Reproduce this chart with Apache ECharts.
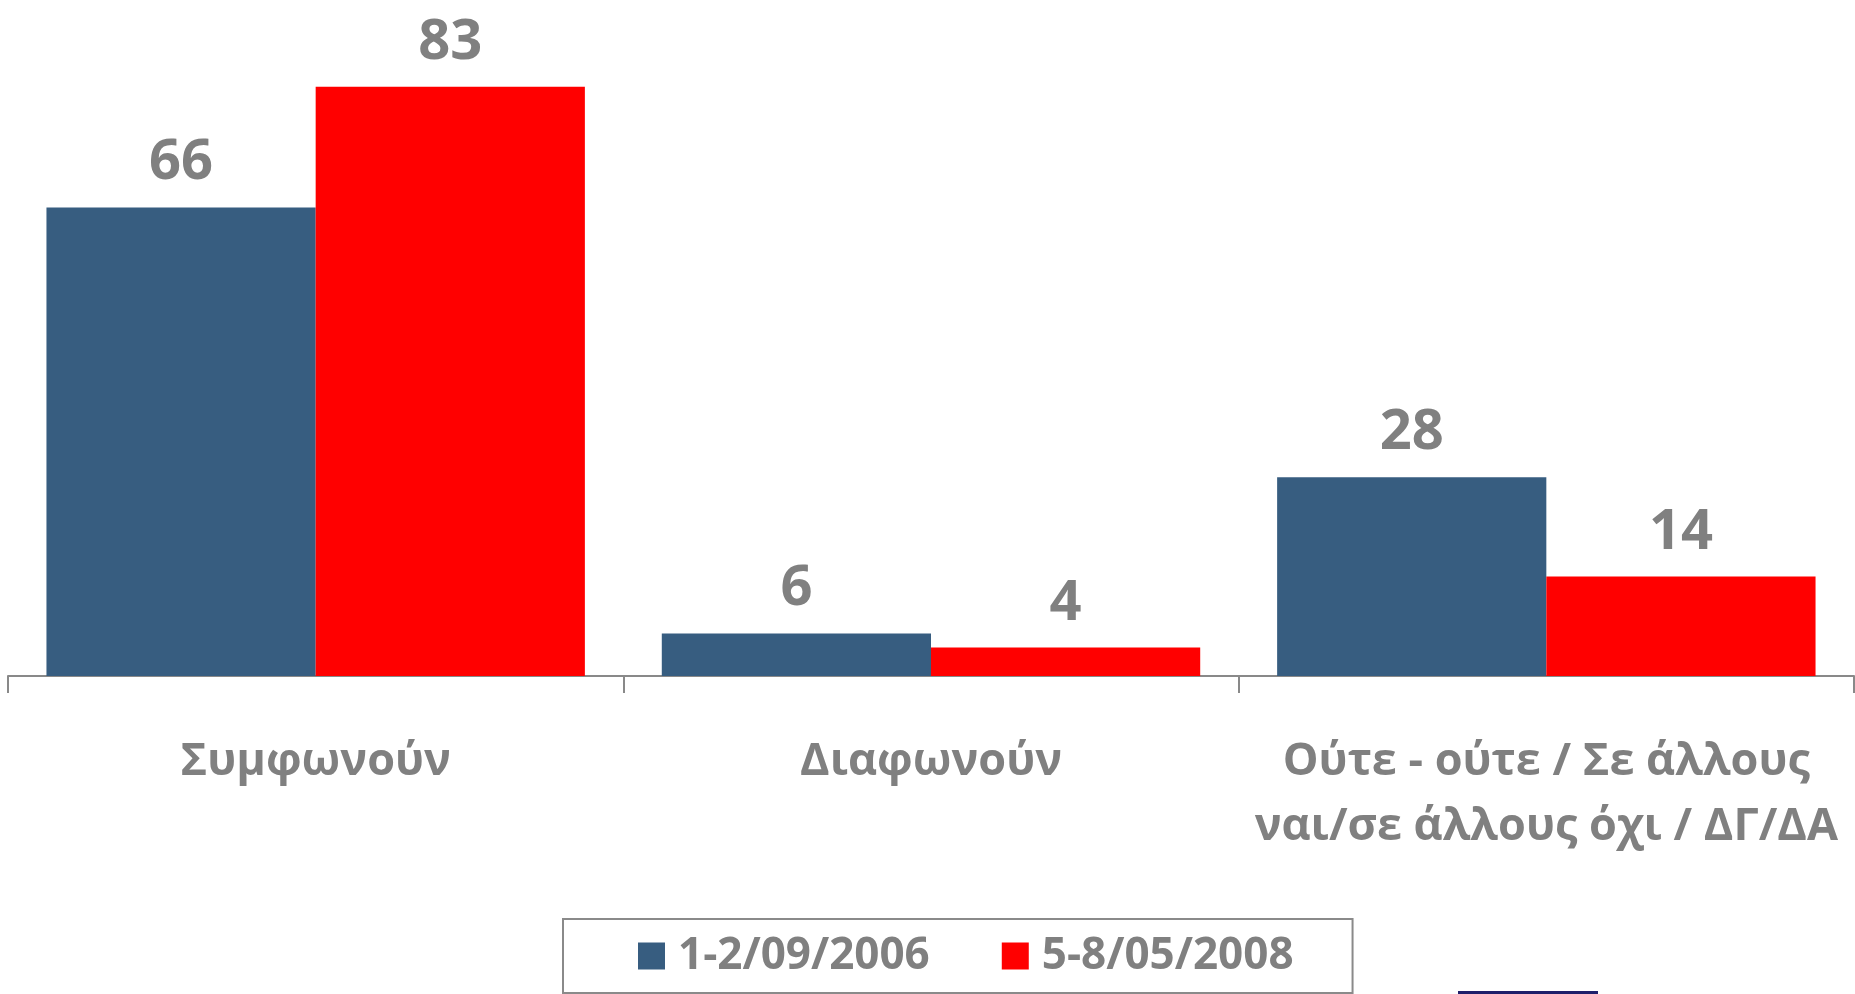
<!DOCTYPE html>
<html>
<head>
<meta charset="utf-8">
<script src="https://cdn.jsdelivr.net/npm/echarts@6/dist/echarts.min.js"></script>
<style>
  html, body { margin: 0; padding: 0; background: #fff; }
  #chart { width: 1855px; height: 994px; }
</style>
</head>
<body>
<div id="chart"></div>
<script>
// data
const categories = [
  "Συμφωνούν",
  "Διαφωνούν",
  "Ούτε - ούτε / Σε άλλους\nναι/σε άλλους όχι / ΔΓ/ΔΑ",
];
const seriesNames = ["1-2/09/2006", "5-8/05/2008"];
const values2006 = [66, 6, 28];
const values2008 = [83, 4, 14];

const GREY = "#808080";
const FONT = "'Open Sans', 'Noto Sans', sans-serif";

const chartDom = document.getElementById("chart");
const myChart = echarts.init(chartDom, null, { renderer: "canvas" });

const barLabel = {
  show: true,
  position: "top",
  distance: 16,
  color: GREY,
  fontFamily: FONT,
  fontWeight: "bold",
  fontSize: 56,
};

const option = {
  animation: false,
  backgroundColor: "#fff",
  grid: {
    left: 8,
    right: 1,
    top: 37,
    bottom: 318,
    containLabel: false,
  },
  legend: {
    left: 563,
    bottom: 1,
    orient: "horizontal",
    padding: [15, 59, 15, 75],
    borderColor: "#8a8a8a",
    borderWidth: 2,
    itemWidth: 27,
    itemHeight: 27,
    itemGap: 72,
    icon: "rect",
    textStyle: {
      color: GREY,
      fontFamily: FONT,
      fontWeight: "bold",
      fontSize: 44,
      padding: [0, 0, 0, 8],
    },
    data: seriesNames,
  },
  xAxis: {
    type: "category",
    data: categories,
    boundaryGap: true,
    axisLine: { lineStyle: { color: "#898989", width: 2 } },
    axisTick: { show: true, length: 17, lineStyle: { color: "#898989", width: 2 } },
    axisLabel: {
      interval: 0,
      margin: 54,
      color: GREY,
      fontFamily: FONT,
      fontWeight: "bold",
      fontSize: 45,
      lineHeight: 65,
    },
  },
  yAxis: {
    type: "value",
    min: 0,
    max: 90,
    show: false,
    splitLine: { show: false },
  },
  series: [
    {
      name: seriesNames[0],
      type: "bar",
      data: values2006,
      barGap: "0%",
      barCategoryGap: "12.5%",
      itemStyle: { color: "#375D80" },
      label: barLabel,
    },
    {
      name: seriesNames[1],
      type: "bar",
      data: values2008,
      barGap: "0%",
      barCategoryGap: "12.5%",
      itemStyle: { color: "#FF0000" },
      label: barLabel,
    },
  ],
  graphic: [
    {
      // thin dark strip cut off at the bottom edge
      type: "rect",
      left: 1458,
      top: 991,
      shape: { width: 140, height: 3 },
      style: { fill: "#1F1F6B" },
    },
  ],
};

myChart.setOption(option);
</script>
</body>
</html>
